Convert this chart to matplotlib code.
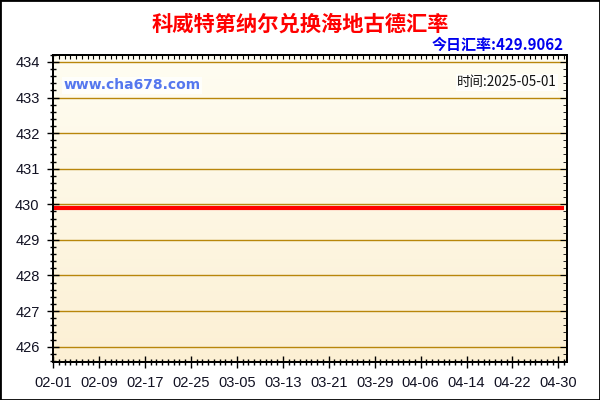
import numpy as np
import pandas as pd
import matplotlib
matplotlib.use("Agg")
import matplotlib.pyplot as plt
from matplotlib.ticker import MultipleLocator, FixedLocator
from matplotlib.patches import Rectangle

plt.rcParams['font.family'] = ['Noto Sans CJK SC', 'DejaVu Sans']

title = "科威特第纳尔兑换海地古德汇率"
today_rate = "今日汇率:429.9062"
site = "www.cha678.com"
stamp = "时间:2025-05-01"

dates = pd.date_range("2025-02-01", "2025-05-01", freq="D")
rates = [
    429.9062, 429.9062, 429.9062, 429.9062, 429.9062, 429.9062, 429.9062, 429.9062, 429.9062, 429.9062,
    429.9062, 429.9062, 429.9062, 429.9062, 429.9062, 429.9062, 429.9062, 429.9062, 429.9062, 429.9062,
    429.9062, 429.9062, 429.9062, 429.9062, 429.9062, 429.9062, 429.9062, 429.9062, 429.9062, 429.9062,
    429.9062, 429.9062, 429.9062, 429.9062, 429.9062, 429.9062, 429.9062, 429.9062, 429.9062, 429.9062,
    429.9062, 429.9062, 429.9062, 429.9062, 429.9062, 429.9062, 429.9062, 429.9062, 429.9062, 429.9062,
    429.9062, 429.9062, 429.9062, 429.9062, 429.9062, 429.9062, 429.9062, 429.9062, 429.9062, 429.9062,
    429.9062, 429.9062, 429.9062, 429.9062, 429.9062, 429.9062, 429.9062, 429.9062, 429.9062, 429.9062,
    429.9062, 429.9062, 429.9062, 429.9062, 429.9062, 429.9062, 429.9062, 429.9062, 429.9062, 429.9062,
    429.9062, 429.9062, 429.9062, 429.9062, 429.9062, 429.9062, 429.9062, 429.9062, 429.9062, 429.9062,
]
y_ticks = [426, 427, 428, 429, 430, 431, 432, 433, 434]

days = np.arange(len(dates))
label_pos = days[::8]
label_txt = [d.strftime("%m-%d") for d in dates[::8]]

fig = plt.figure(figsize=(6, 4), dpi=100)
fig.patches.append(Rectangle((0, 0), 1, 1, transform=fig.transFigure,
                             fill=False, edgecolor='black', linewidth=2))
ax = fig.add_axes([0.088, 0.096, 0.857, 0.767])

ylo, yhi = 425.58, 434.2
xlo, xhi = -0.05, 89.5
ax.set_xlim(xlo, xhi)
ax.set_ylim(ylo, yhi)

# background gradient, light cream at top to warmer at bottom
grad = np.linspace(0, 1, 256).reshape(-1, 1)
top_c = np.array([255, 253, 242]) / 255
bot_c = np.array([252, 240, 212]) / 255
img = top_c + (bot_c - top_c) * grad[:, :, None]
ax.imshow(img, extent=[xlo, xhi, ylo, yhi], origin='upper', aspect='auto', zorder=0)
ax.set_xlim(xlo, xhi)
ax.set_ylim(ylo, yhi)

for y in y_ticks:
    ax.axhline(y, color='#B8860B', linewidth=1, zorder=1)

ax.plot(days, rates, color='#FF0000', linewidth=3, zorder=3,
        solid_capstyle='butt')

tick_font = dict(family=['Liberation Sans', 'DejaVu Sans'], size=10.5)
ax.yaxis.set_major_locator(FixedLocator(y_ticks))
ax.yaxis.set_minor_locator(MultipleLocator(0.2))
ax.set_yticklabels([str(v) for v in y_ticks], fontdict=tick_font, color='#111122')
ax.xaxis.set_major_locator(FixedLocator(label_pos))
ax.xaxis.set_minor_locator(MultipleLocator(1))
ax.set_xticklabels(label_txt, fontdict=tick_font, color='#111122')

ax.tick_params(axis='both', which='major', direction='inout', length=9, width=1)
ax.tick_params(axis='both', which='minor', direction='inout', length=5, width=1)
ax.tick_params(axis='x', which='major', pad=6)
ax.tick_params(axis='y', which='major', pad=5)

# inward ticks on top and right
ax2 = ax.twinx()
ax2.set_ylim(ylo, yhi)
ax2.yaxis.set_major_locator(FixedLocator(y_ticks))
ax2.yaxis.set_minor_locator(MultipleLocator(0.2))
ax2.tick_params(axis='y', which='both', direction='in', labelright=False)
ax2.tick_params(axis='y', which='major', length=5)
ax2.tick_params(axis='y', which='minor', length=3)
ax3 = ax.twiny()
ax3.set_xlim(xlo, xhi)
ax3.xaxis.set_major_locator(MultipleLocator(1))
ax3.tick_params(axis='x', which='both', direction='in', length=3, labeltop=False)

for a in (ax, ax2, ax3):
    for s in a.spines.values():
        s.set_linewidth(1.2)
        s.set_color('black')

fig.text(0.5, 0.94, title, ha='center', va='center', color='#FF0000',
         fontsize=15.3, fontweight='bold')
fig.text(0.94, 0.888, today_rate, ha='right', va='center', color='#0000EE',
         fontsize=10.8, fontweight='bold')
ax.text(0.02, 0.9, site, transform=ax.transAxes, ha='left', va='center',
        color='#5577EE', fontsize=10, fontweight='bold',
        family=['DejaVu Sans'],
        bbox=dict(facecolor='white', edgecolor='none', pad=1, alpha=0.8), zorder=5)
ax.text(0.98, 0.91, stamp, transform=ax.transAxes, ha='right', va='center',
        color='#111111', fontsize=9.7,
        bbox=dict(facecolor='white', edgecolor='none', pad=1, alpha=0.8), zorder=5)

fig.savefig("out.png", dpi=100)
